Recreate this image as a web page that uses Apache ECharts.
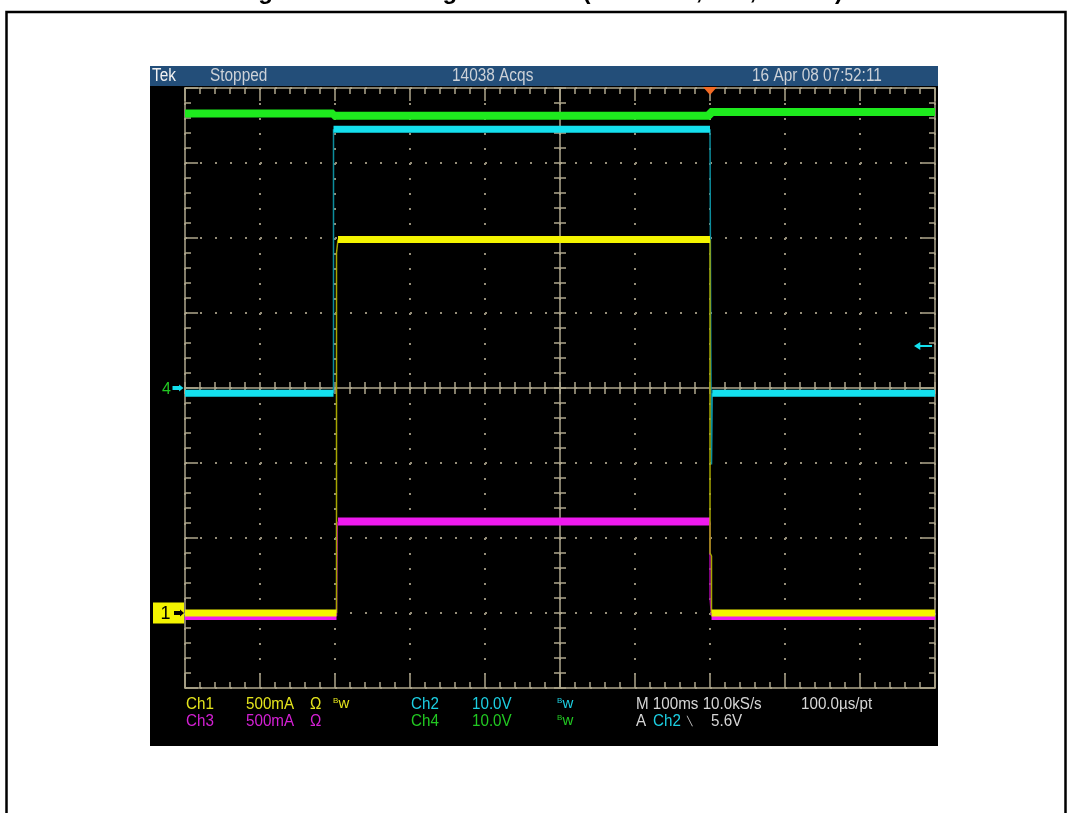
<!DOCTYPE html>
<html>
<head>
<meta charset="utf-8">
<script src="https://cdn.jsdelivr.net/npm/echarts@6/dist/echarts.min.js"></script>
<style>
  html, body { margin: 0; padding: 0; background: #fff; }
  #chart { width: 1070px; height: 813px; }
</style>
</head>
<body>
<div id="chart"></div>
<script>
// Time base: ms from screen centre, 100 ms per division, 10 divisions.
const timeRange = [-500, 500];
// Ch2 / Ch4 are 10.0 V/div with ground at centre; Ch1 / Ch3 are 500 mA/div with ground 3 div below centre.
const voltRange = [-40, 40];
const ampRange = [-0.5, 3.5];

// Ch4 supply trace: [ms, V]
const ch4Levels = [[-500, 36.6], [-302, 36.6], [-302, 36.3], [200, 36.3], [200, 36.8], [500, 36.8]];
// Plateaus: [start ms, end ms, level]; edges: polylines through the fast transitions
const ch2Plateaus = [[-500, -302, -0.7], [-302, 200, 34.5], [203, 500, -0.7]];
const ch2Edges = [[[-302, -0.7], [-302, 34.5]], [[200, 34.5], [201, 6.1], [202, -10.2], [203, -0.7]]];
const ch1Plateaus = [[-500, -298, 0.0], [-296, 200, 2.49], [202, 500, 0.0]];
const ch1Edges = [[[-298, 0.0], [-298, 2.40], [-296, 2.49]], [[200, 2.49], [200, 0.40], [202, 0.38], [202, 0.0]]];
const ch3Plateaus = [[-500, -298, -0.02], [-296, 200, 0.61], [202, 500, -0.02]];
const ch3Edges = [[[-298, -0.02], [-297, 0.58], [-296, 0.61]], [[200, 0.61], [200, 0.10], [202, -0.02]]];

// Trigger: Ch2 falling edge at 5.6 V, trigger point at +200 ms
const triggerTime = 200;
const triggerLevel = 5.6;

const headerTexts = [['Tek', 152], ['Stopped', 210], ['14038 Acqs', 452], ['16 Apr 08 07:52:11', 752]];

const SCOPE_FONT = "'Liberation Sans', Arial, sans-serif";
const TAN = '#aea68c';
const DOT = '#948d78';
const C = {
  ch1: '#f4f400', ch1Edge: '#a6a600',
  ch2: '#14e0ee', ch2Edge: '#0c8c9c',
  ch3: '#ee1aee', ch3Edge: '#a800a8',
  ch4: '#1eea1e'
};
const ARROW_RIGHT = 'path://M0,0 L12,0 L12,-3.5 L20,5 L12,13.5 L12,10 L0,10 Z';
const ARROW_LEFT = 'path://M0,5 L7,0 L7,3.8 L20,3.8 L20,6.2 L7,6.2 L7,10 Z';

function bandData(segs) {
  const out = [];
  segs.forEach(([t0, t1, v], i) => {
    if (i) out.push('-');
    out.push([t0, v], [t1, v]);
  });
  return out;
}
function edgeData(edges) {
  const out = [];
  edges.forEach((pts, i) => {
    if (i) out.push('-');
    pts.forEach(p => out.push(p));
  });
  return out;
}

const tickStyle = { color: TAN, width: 1.5 };
const dotGrid = { show: true, lineStyle: { color: DOT, width: 2, type: [2, 13] } };
function borderX(position, withGrid) {
  return {
    type: 'value', min: timeRange[0], max: timeRange[1], interval: 100, position,
    axisLine: { show: true, onZero: false, lineStyle: tickStyle },
    axisTick: { show: true, inside: true, length: 13, lineStyle: tickStyle },
    minorTick: { show: true, splitNumber: 5, length: 6, lineStyle: tickStyle },
    axisLabel: { show: false },
    splitLine: withGrid ? dotGrid : { show: false }
  };
}
function crossX(position, lineShown) {
  return {
    type: 'value', min: timeRange[0], max: timeRange[1], interval: 100, position,
    axisLine: { show: lineShown, onZero: true, onZeroAxisIndex: 0, lineStyle: tickStyle },
    axisTick: { show: true, inside: true, length: 6, lineStyle: tickStyle },
    minorTick: { show: true, splitNumber: 5, length: 6, lineStyle: tickStyle },
    axisLabel: { show: false }, splitLine: { show: false }
  };
}
function borderY(position, withGrid) {
  return {
    type: 'value', min: voltRange[0], max: voltRange[1], interval: 10, position,
    axisLine: { show: true, onZero: false, lineStyle: tickStyle },
    axisTick: { show: true, inside: true, length: 13, lineStyle: tickStyle },
    minorTick: { show: true, splitNumber: 5, length: 6, lineStyle: tickStyle },
    axisLabel: { show: false },
    splitLine: withGrid ? dotGrid : { show: false }
  };
}
function crossY(position, lineShown) {
  return {
    type: 'value', min: voltRange[0], max: voltRange[1], interval: 10, position,
    axisLine: { show: lineShown, onZero: true, onZeroAxisIndex: 0, lineStyle: tickStyle },
    axisTick: { show: true, inside: true, length: 6, lineStyle: tickStyle },
    minorTick: { show: true, splitNumber: 5, length: 6, lineStyle: tickStyle },
    axisLabel: { show: false }, splitLine: { show: false }
  };
}

// Scope readouts use a condensed face: Arial metrics squeezed horizontally
function txt(text, x, y, fill, size, squeeze) {
  return {
    type: 'text', x, y, z: 20, scaleX: squeeze == null ? 0.92 : squeeze,
    style: { text, fill, font: size + 'px ' + SCOPE_FONT, align: 'left', verticalAlign: 'middle' }
  };
}

const graphic = [
  // page frame and caption
  { type: 'rect', z: -20, shape: { x: 6.5, y: 12, width: 1059, height: 900 }, style: { fill: '#fff', stroke: '#000', lineWidth: 2.5 } },
  { type: 'text', x: 540, y: -7.5, z: 20, style: { text: 'Figure 6. Switching waveform (inductive, 30V, 4.5mH)', fill: '#000', font: 'bold 24px "Liberation Sans", Arial, sans-serif', align: 'center', verticalAlign: 'middle' } },
  // scope screen
  { type: 'rect', z: -10, shape: { x: 150, y: 66, width: 788, height: 680 }, style: { fill: '#000' } },
  { type: 'rect', z: -9, shape: { x: 150, y: 66, width: 788, height: 20 }, style: { fill: '#234e79' } }
];
headerTexts.forEach(([t, x], i) => graphic.push(txt(t, x, 76.5, i === 0 ? '#f2f2f2' : '#cdd2d8', 17.5, 0.88)));

const row1 = 704, row2 = 721, fs = 16.5;
const Y = '#e4e41c', CY = '#1ccfe2', MG = '#d420d4', GN = '#22c822', GR = '#d6d6d6';
graphic.push(
  txt('Ch1', 186, row1, Y, fs), txt('500mA', 246, row1, Y, fs), txt('Ω', 310, row1, Y, fs),
  txt('B', 333, 700.5, Y, 8, 1), txt('w', 338.5, 704, Y, 15, 1),
  txt('Ch2', 411, row1, CY, fs), txt('10.0V', 472, row1, CY, fs),
  txt('B', 557, 700.5, CY, 8, 1), txt('w', 562.5, 704, CY, 15, 1),
  txt('M 100ms 10.0kS/s', 636, row1, GR, fs), txt('100.0µs/pt', 801, row1, GR, fs),
  txt('Ch3', 186, row2, MG, fs), txt('500mA', 246, row2, MG, fs), txt('Ω', 310, row2, MG, fs),
  txt('Ch4', 411, row2, GN, fs), txt('10.0V', 472, row2, GN, fs),
  txt('B', 557, 717.5, GN, 8, 1), txt('w', 562.5, 721, GN, 15, 1),
  txt('A', 636, row2, GR, fs), txt('Ch2', 653, row2, CY, fs),
  txt('\u2572', 687, 722, GR, 9, 1), txt(triggerLevel.toFixed(1) + 'V', 711, row2, GR, fs)
);

const hiddenLabel = { show: false };
const option = {
  animation: false,
  backgroundColor: '#fff',
  graphic,
  grid: { left: 185, top: 88, width: 750, height: 600, show: false },
  xAxis: [borderX('top', true), borderX('bottom', false), crossX('bottom', true), crossX('top', false)],
  yAxis: [
    borderY('left', true),
    { type: 'value', min: ampRange[0], max: ampRange[1], show: false, axisLine: { onZero: false } },
    borderY('right', false),
    crossY('left', true),
    crossY('right', false)
  ],
  series: [
    { name: 'Ch3', type: 'line', yAxisIndex: 1, data: bandData(ch3Plateaus), showSymbol: false, symbol: 'none',
      lineStyle: { color: C.ch3, width: 8 }, z: 3 },
    { name: 'Ch3 edge', type: 'line', yAxisIndex: 1, data: edgeData(ch3Edges), showSymbol: false, symbol: 'none',
      lineStyle: { color: C.ch3Edge, width: 1.5 }, z: 3 },
    { name: 'Ch4', type: 'line', yAxisIndex: 0, data: ch4Levels, showSymbol: false, symbol: 'none',
      lineStyle: { color: C.ch4, width: 8 }, z: 4,
      markPoint: { symbol: 'rect', symbolSize: 1, itemStyle: { color: 'rgba(0,0,0,0)' }, animation: false,
        data: [{ coord: [timeRange[0], 0], symbolOffset: [-18.5, 2],
          label: { show: true, position: 'inside', formatter: '4', color: '#22c822', fontSize: 16, fontFamily: SCOPE_FONT } }] } },
    { name: 'Ch2 edge', type: 'line', yAxisIndex: 0, data: edgeData(ch2Edges), showSymbol: false, symbol: 'none',
      lineStyle: { color: C.ch2Edge, width: 1.5 }, z: 5 },
    { name: 'Ch2', type: 'line', yAxisIndex: 0, data: bandData(ch2Plateaus), showSymbol: false, symbol: 'none',
      lineStyle: { color: C.ch2, width: 7 }, z: 5,
      markPoint: { animation: false, label: hiddenLabel,
        data: [
          // ground reference arrow
          { coord: [timeRange[0], 0], symbol: ARROW_RIGHT, symbolSize: [11, 7], symbolOffset: [-7, 0], itemStyle: { color: C.ch2 } },
          // trigger level arrow
          { coord: [timeRange[1], triggerLevel], symbol: ARROW_LEFT, symbolSize: [18, 8], symbolOffset: [-12, 0], itemStyle: { color: C.ch2 } },
          // trigger position
          { coord: [triggerTime, voltRange[1]], symbol: 'triangle', symbolRotate: 180, symbolSize: [14, 8], symbolOffset: [0, 3], itemStyle: { color: '#f26a24' } }
        ] } },
    { name: 'Ch1 edge', type: 'line', yAxisIndex: 1, data: edgeData(ch1Edges), showSymbol: false, symbol: 'none',
      lineStyle: { color: C.ch1Edge, width: 1.5 }, z: 6 },
    { name: 'Ch1', type: 'line', yAxisIndex: 1, data: bandData(ch1Plateaus), showSymbol: false, symbol: 'none',
      lineStyle: { color: C.ch1, width: 7 }, z: 6,
      markPoint: { animation: false,
        data: [
          // ground reference tag
          { coord: [timeRange[0], 0], symbol: 'rect', symbolSize: [31, 21], symbolOffset: [-16.5, 0], itemStyle: { color: '#f4f400' },
            label: { show: true, position: 'inside', formatter: '1', color: '#000', fontSize: 18, fontFamily: SCOPE_FONT, offset: [-3, 1] } },
          { coord: [timeRange[0], 0], symbol: ARROW_RIGHT, symbolSize: [10, 7], symbolOffset: [-6, 0], itemStyle: { color: '#000' }, label: hiddenLabel }
        ] } }
  ]
};

const chart = echarts.init(document.getElementById('chart'), null, { renderer: 'canvas' });
chart.setOption(option);
</script>
</body>
</html>
